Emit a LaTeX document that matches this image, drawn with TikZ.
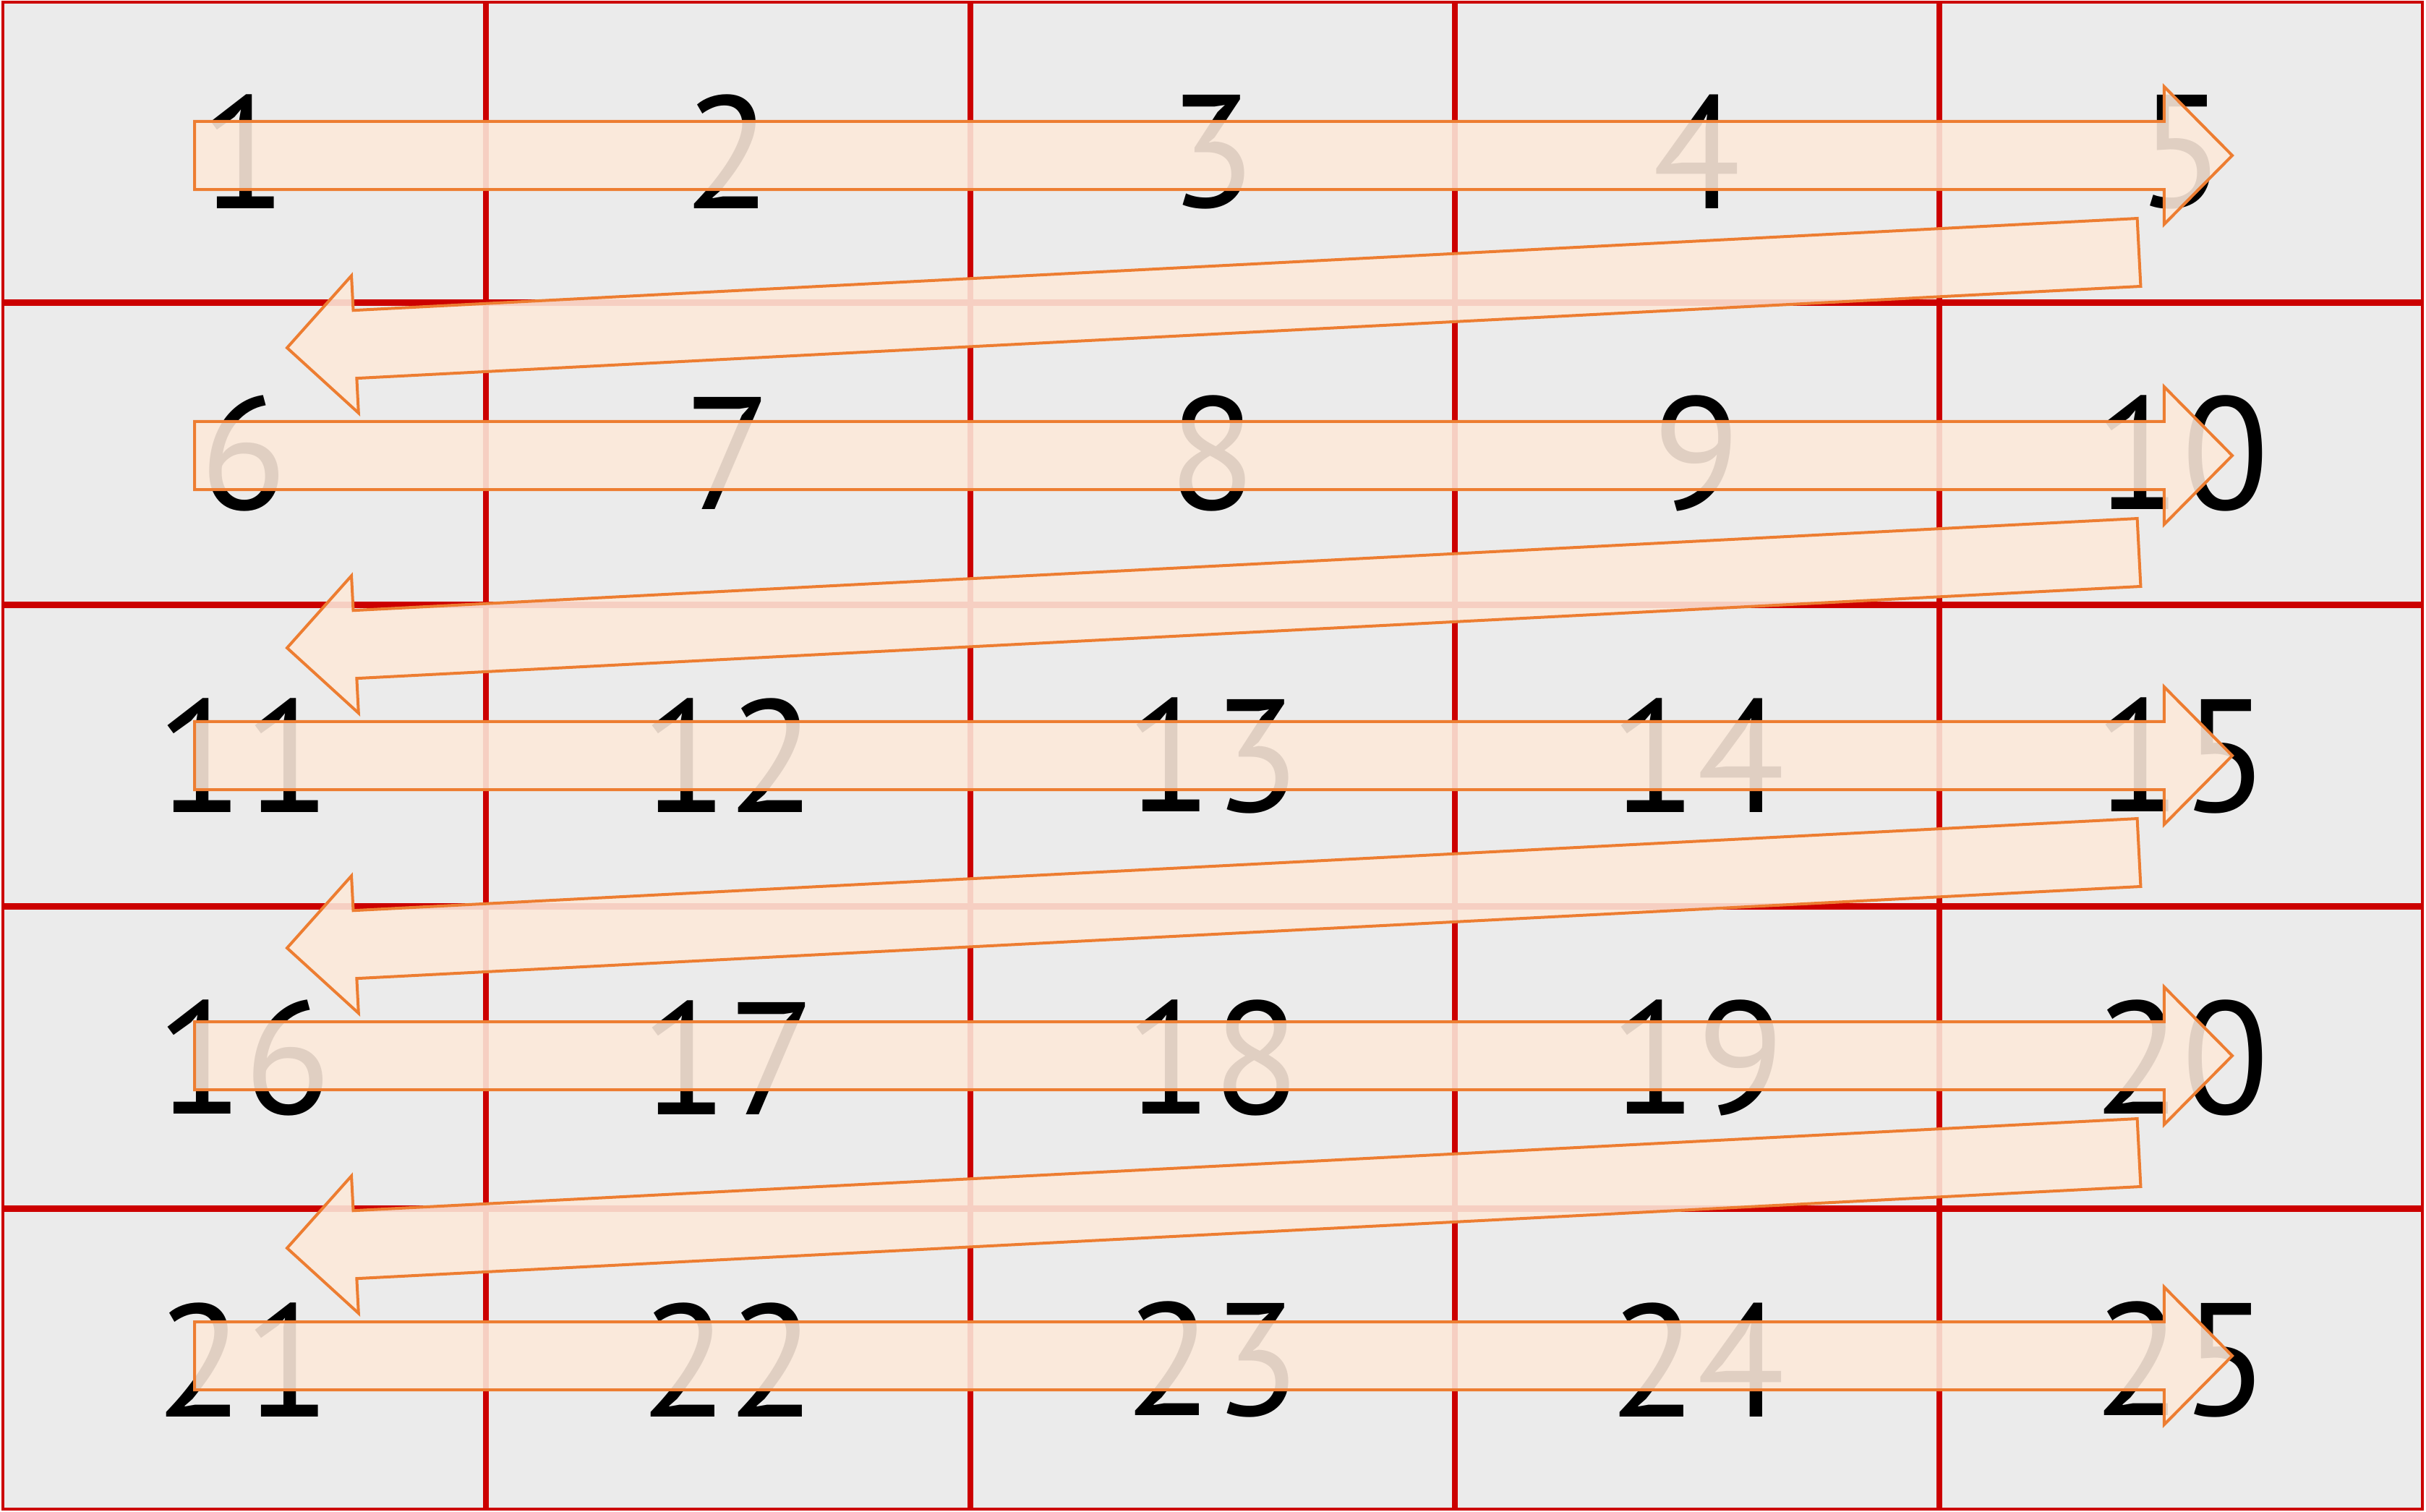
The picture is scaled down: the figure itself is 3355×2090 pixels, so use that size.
\documentclass[tikz,border=0pt]{standalone}
\usepackage{fontspec}
\setmainfont{PT Sans}
\usetikzlibrary{calc}
\definecolor{cellgray}{RGB}{235,235,235}
\definecolor{cellred}{RGB}{204,0,0}
\definecolor{arrfill}{RGB}{252,233,218}
\definecolor{arrline}{RGB}{237,125,49}
\tikzset{
  cellbox/.style={draw=cellred, fill=cellgray, line width=0.045cm, rectangle,
    minimum width=6.655cm, minimum height=4.131cm, inner sep=0pt, outer sep=0pt,
    font=\fontsize{63}{72}\selectfont, text=black},
  blockarrow/.style={draw=arrline, fill=arrfill, fill opacity=0.89, draw opacity=1,
    line width=0.04cm, line join=miter}
}
\newcommand\bigarrow[2]{%
  \coordinate (hb) at ($(#2)!0.94cm!(#1)$);
  \draw[blockarrow] ($(#1)!0.47cm!90:(#2)$) -- ($(hb)!0.47cm!90:(#2)$) -- ($(hb)!0.95cm!90:(#2)$) -- (#2)
     -- ($(hb)!0.95cm!-90:(#2)$) -- ($(hb)!0.47cm!-90:(#2)$) -- ($(#1)!0.47cm!-90:(#2)$) -- cycle;}
\begin{document}
\begin{tikzpicture}[x=0.01cm, y=-0.01cm]
\useasboundingbox (0,0) rectangle (3355,2090);
\fill[white] (0,0) rectangle (3355,2090);
% cells
\foreach \r in {1,...,5}{
  \foreach \c in {1,...,5}{
    \pgfmathtruncatemacro\n{(\r-1)*5+\c}
    \node[cellbox] (c\n) at ({2+670*(\c-0.5)}, {1+417.6*(\r-0.5)}) {\n};
  }
}
% forward arrows
\foreach \r in {1,...,5}{
  \coordinate (f\r s) at (269, {215+415*(\r-1)});
  \coordinate (f\r t) at (3087, {215+415*(\r-1)});
  \bigarrow{f\r s}{f\r t}
}
% backward arrows
\foreach \r in {1,...,4}{
  \coordinate (b\r s) at (2958, {349+415*(\r-1)});
  \coordinate (b\r t) at (397, {481+415*(\r-1)});
  \bigarrow{b\r s}{b\r t}
}
\end{tikzpicture}
\end{document}
